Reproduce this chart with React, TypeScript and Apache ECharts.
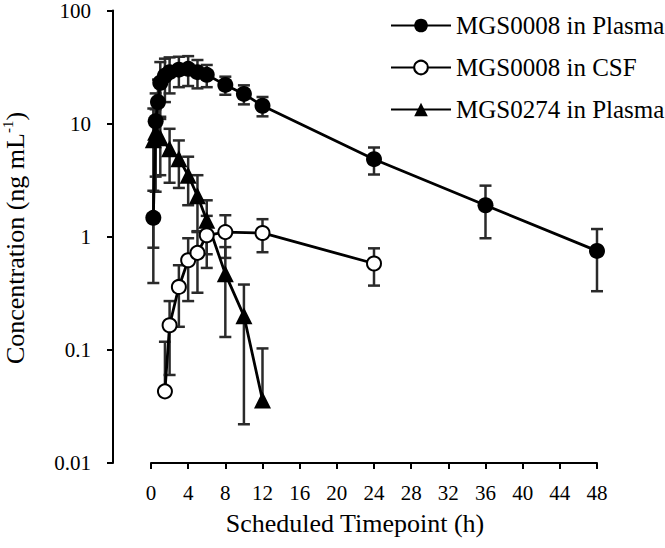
import React, { useEffect, useRef } from "react";
import * as echarts from "echarts";

// ---- data ----
const plasma8Name = "MGS0008 in Plasma";
const plasma8Times = [0.25, 0.5, 0.75, 1, 1.5, 2, 3, 4, 5, 6, 8, 10, 12, 24, 36, 48];
const plasma8Values = [1.47, 10.5, 15.5, 23, 26.5, 28.5, 30, 30.5, 28.5, 27, 22, 18.3, 14.4, 4.85, 1.9, 0.75];
const plasma8SD = [1.08, 8, 9, 12, 11, 10, 9, 9, 8, 6, 4, 3.5, 2.8, 1.3, 0.93, 0.42];

const csf8Name = "MGS0008 in CSF";
const csf8Times = [1.5, 2, 3, 4, 5, 6, 8, 12, 24];
const csf8Values = [0.043, 0.165, 0.36, 0.62, 0.72, 1.03, 1.1, 1.08, 0.58];
const csf8SD = [0.075, 0.105, 0.2, 0.35, 0.4, 0.5, 0.45, 0.35, 0.21];

const plasma274Name = "MGS0274 in Plasma";
const plasma274Times = [0.25, 0.5, 1, 2, 3, 4, 5, 6, 8, 10, 12];
const plasma274Values = [7.2, 8.4, 7.5, 6.0, 4.9, 3.5, 2.3, 1.4, 0.47, 0.2, 0.036];
const plasma274SD = [6.4, 5, 4, 3, 2.2, 1.6, 1.2, 0.7, 0.34, 0.178, 0.067];

const xTicks = { min: 0, max: 48, interval: 4 };
const yTicks = { min: 0.01, max: 100 };
const xTitle = "Scheduled Timepoint (h)";

const FONT = "'Liberation Serif', 'Times New Roman', serif";

function pairs(t: number[], v: number[]) {
  return t.map((x, i) => [x, v[i]]);
}
function errRows(t: number[], v: number[], sd: number[]) {
  return t.map((x, i) => [x, v[i], v[i] - sd[i], v[i] + sd[i]]);
}

const errRender = (params: any, api: any) => {
  const t = api.value(0);
  const v = api.value(1);
  const lo = api.value(2);
  const hi = api.value(3);
  const style = { stroke: "#2a2a2a", lineWidth: 2.5 };
  const pv = api.coord([t, v]);
  const ph = api.coord([t, hi]);
  const w = 6;
  const children: any[] = [
    { type: "line", shape: { x1: pv[0], y1: pv[1], x2: ph[0], y2: ph[1] }, style },
    { type: "line", shape: { x1: ph[0] - w, y1: ph[1], x2: ph[0] + w, y2: ph[1] }, style },
  ];
  if (lo > 0) {
    const pl = api.coord([t, lo]);
    children.push(
      { type: "line", shape: { x1: pv[0], y1: pv[1], x2: pl[0], y2: pl[1] }, style },
      { type: "line", shape: { x1: pl[0] - w, y1: pl[1], x2: pl[0] + w, y2: pl[1] }, style }
    );
  }
  return { type: "group", children };
};

function errSeries(name: string, t: number[], v: number[], sd: number[]) {
  return {
    type: "custom",
    name: name + " err",
    data: errRows(t, v, sd),
    encode: { x: 0, y: 1 },
    renderItem: errRender,
    z: 1,
    silent: true,
  };
}

export default function App() {
  const ref = useRef<HTMLDivElement>(null);
  useEffect(() => {
    if (!ref.current) return;
    const chart = echarts.init(ref.current, undefined, { renderer: "svg" });
    const axisTick = { show: true, length: 6, lineStyle: { color: "#000", width: 2 } };
    chart.setOption({
      animation: false,
      backgroundColor: "#fff",
      grid: { left: 151, right: 68, top: 9.5, bottom: 85 },
      legend: {
        orient: "vertical",
        left: 385,
        top: 7,
        itemWidth: 60,
        itemHeight: 17,
        itemGap: 15,
        data: [plasma8Name, csf8Name, plasma274Name],
        textStyle: { fontFamily: FONT, fontSize: 25, color: "#000", lineHeight: 27 },
      },
      xAxis: {
        type: "value",
        min: xTicks.min,
        max: xTicks.max,
        interval: xTicks.interval,
        axisLine: { onZero: false, lineStyle: { color: "#000", width: 2 } },
        axisTick,
        splitLine: { show: false },
        axisLabel: { fontFamily: FONT, fontSize: 21, color: "#000", margin: 19 },
      },
      yAxis: {
        type: "log",
        logBase: 10,
        min: yTicks.min,
        max: yTicks.max,
        offset: 38,
        axisLine: { show: true, onZero: false, lineStyle: { color: "#000", width: 2 } },
        axisTick,
        splitLine: { show: false },
        minorTick: { show: false },
        axisLabel: { fontFamily: FONT, fontSize: 21, color: "#000", margin: 22 },
      },
      graphic: [
        {
          type: "text",
          x: 355,
          y: 523,
          style: {
            text: xTitle,
            fontFamily: FONT,
            fontSize: 26,
            fill: "#000",
            align: "center",
            verticalAlign: "middle",
          },
        },
        {
          type: "text",
          x: 15,
          y: 238,
          rotation: Math.PI / 2,
          style: {
            text: "{a|Concentration (ng mL}{s|-1}{a|)}",
            align: "center",
            verticalAlign: "middle",
            rich: {
              a: { fontFamily: FONT, fontSize: 26, lineHeight: 30, fill: "#000" },
              s: { fontFamily: FONT, fontSize: 15, lineHeight: 15, fill: "#000", verticalAlign: "top" },
            },
          },
        },
      ],
      series: [
        errSeries(plasma8Name, plasma8Times, plasma8Values, plasma8SD),
        errSeries(csf8Name, csf8Times, csf8Values, csf8SD),
        errSeries(plasma274Name, plasma274Times, plasma274Values, plasma274SD),
        {
          type: "line",
          name: plasma274Name,
          data: pairs(plasma274Times, plasma274Values),
          symbol: "triangle",
          symbolSize: 17,
          lineStyle: { color: "#000", width: 2.8 },
          itemStyle: { color: "#000" },
          z: 3,
        },
        {
          type: "line",
          name: csf8Name,
          data: pairs(csf8Times, csf8Values),
          symbol: "emptyCircle",
          symbolSize: 14,
          lineStyle: { color: "#000", width: 2.8 },
          itemStyle: { color: "#000", borderWidth: 2.5 },
          z: 4,
        },
        {
          type: "line",
          name: plasma8Name,
          data: pairs(plasma8Times, plasma8Values),
          symbol: "circle",
          symbolSize: 16,
          lineStyle: { color: "#000", width: 2.8 },
          itemStyle: { color: "#000" },
          z: 5,
        },
      ],
    });
    return () => chart.dispose();
  }, []);
  return (
    <div
      ref={ref}
      style={{ position: "fixed", left: 0, top: 0, width: 665, height: 548, background: "#fff" }}
    />
  );
}
